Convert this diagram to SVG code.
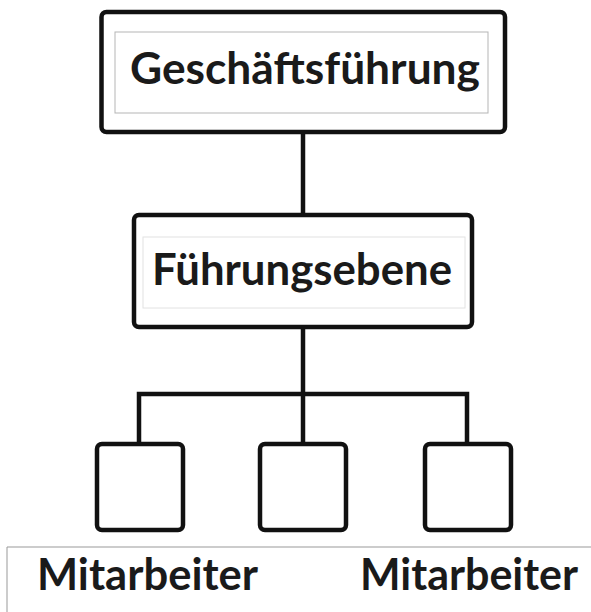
<svg xmlns="http://www.w3.org/2000/svg" width="591" height="612" viewBox="0 0 591 612">
<style>
.box{fill:#fff;stroke:#111;stroke-width:4.5}
.inner{fill:none;stroke:#b5b5b5;stroke-width:1}
.faint{fill:none;stroke:#e2e2e2;stroke-width:1}
.conn{fill:none;stroke:#111;stroke-width:4.5}
.lbl{font-family:Lato,"Liberation Sans",sans-serif;font-weight:700;fill:#1a1a1a}
</style>
<rect width="591" height="612" fill="#fff"/>
<g id="connectors">
<line class="conn" x1="303" y1="133" x2="303" y2="215"/>
<line class="conn" x1="303" y1="327" x2="303" y2="394"/>
<polyline class="conn" points="139,444 139,394 467,394 467,444"/>
<line class="conn" x1="303" y1="394" x2="303" y2="444"/>
</g>
<g id="geschaeftsfuehrung">
<rect class="box" x="101.5" y="12" width="403.5" height="120" rx="5"/>
<rect class="inner" x="115" y="32" width="373" height="81"/>
<text class="lbl" x="130" y="84" font-size="43" textLength="350" lengthAdjust="spacingAndGlyphs">Geschäftsführung</text>
</g>
<g id="fuehrungsebene">
<rect class="box" x="134" y="215" width="338" height="112" rx="5"/>
<rect class="faint" x="143" y="237" width="322" height="71"/>
<text class="lbl" x="152" y="285" font-size="44" textLength="300" lengthAdjust="spacingAndGlyphs">Führungsebene</text>
</g>
<g id="mitarbeiter1">
<rect class="box" x="97" y="444" width="86" height="86" rx="5"/>
</g>
<g id="mitarbeiter2">
<rect class="box" x="260" y="444" width="86" height="86" rx="5"/>
</g>
<g id="mitarbeiter3">
<rect class="box" x="425" y="444" width="86" height="86" rx="5"/>
</g>
<g id="labels">
<path d="M7 612 V547 H591" fill="none" stroke="#999" stroke-width="1"/>
<text class="lbl" x="37" y="590" font-size="44" textLength="221" lengthAdjust="spacingAndGlyphs">Mitarbeiter</text>
<text class="lbl" x="360" y="590" font-size="44" textLength="218" lengthAdjust="spacingAndGlyphs">Mitarbeiter</text>
</g>
</svg>
